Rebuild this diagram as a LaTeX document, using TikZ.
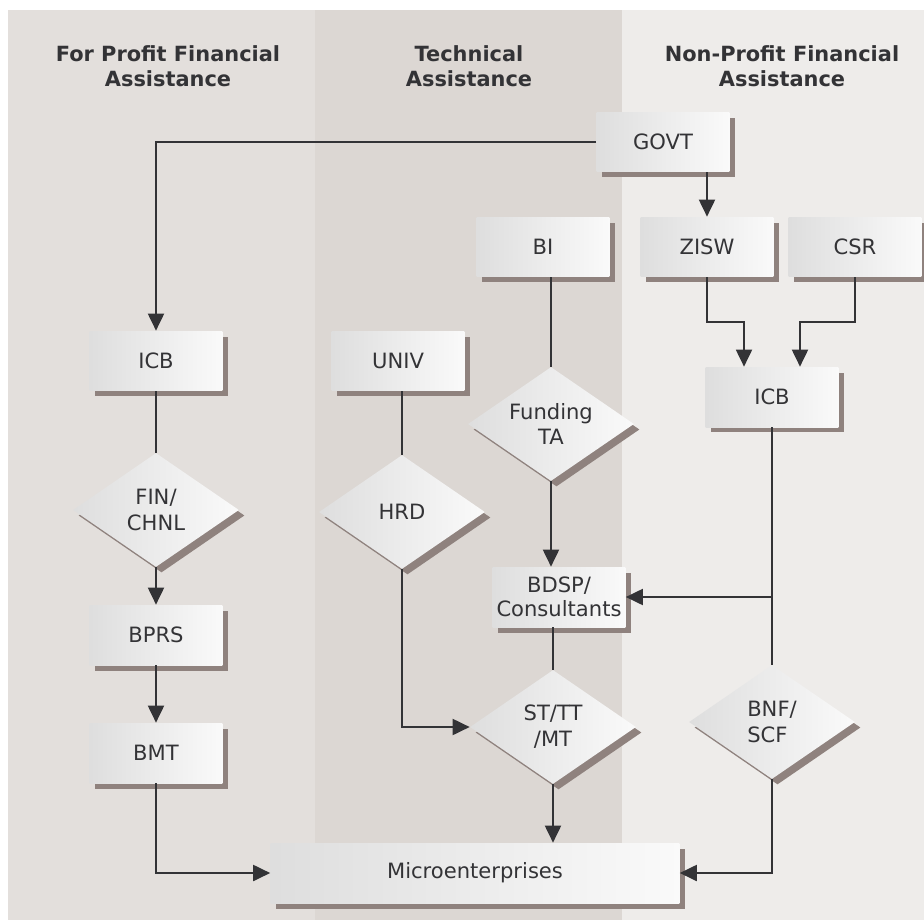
\documentclass[tikz,border=0pt]{standalone}
\usepackage{fontspec}
\setmainfont{DejaVu Sans}
\usepackage{tikz}
\usetikzlibrary{shapes,shadows,arrows.meta}

\definecolor{colA}{HTML}{E3DFDC}
\definecolor{colB}{HTML}{DCD7D3}
\definecolor{colC}{HTML}{EEECEA}
\definecolor{shadowc}{HTML}{8F827E}
\definecolor{ink}{HTML}{333336}

\begin{document}
\begin{tikzpicture}[x=0.02cm,y=-0.02cm,
	box/.style={rectangle, minimum width=2.66cm, minimum height=1.2cm, inner sep=0pt, align=center,
		left color=black!13, right color=black!2, text=ink, font=\fontsize{12}{13.6}\selectfont,
		drop shadow={shadow xshift=0.11cm, shadow yshift=-0.11cm, fill=shadowc, opacity=1}},
	decision/.style={diamond, aspect=1.45, minimum width=3.32cm, minimum height=2.28cm, inner sep=0pt, align=center,
		left color=black!13, right color=black!2, text=ink, font=\fontsize{12}{14.7}\selectfont,
		drop shadow={shadow xshift=0.11cm, shadow yshift=-0.11cm, fill=shadowc, opacity=1}},
	head/.style={font=\fontsize{11.9}{14.5}\selectfont\bfseries, text=ink, align=center},
	link/.style={draw=ink, line width=1.1pt},
	arr/.style={link, -{Triangle[length=0.34cm,width=0.32cm]}}]
	\useasboundingbox (0,0) rectangle (924,920);
	
	% three columns
	\fill[colA] (8,10) rectangle (315,920);
	\fill[colB] (315,10) rectangle (622,920);
	\fill[colC] (622,10) rectangle (924,920);
	
	\node[head] (hfp) at (168,66) {For Profit Financial\\Assistance};
	\node[head] (hta) at (469,66) {Technical\\Assistance};
	\node[head] (hnp) at (782,66) {Non-Profit Financial\\Assistance};
	
	% boxes
	\node[box] (govt) at (663,142) {GOVT};
	\node[box] (bi) at (543,247) {BI};
	\node[box] (zisw) at (707,247) {ZISW};
	\node[box] (csr) at (855,247) {CSR};
	\node[box] (icbl) at (156,361) {ICB};
	\node[box] (univ) at (398,361) {UNIV};
	\node[box] (icbr) at (772,397) {ICB};
	\node[box] (bdsp) at (559,597) {BDSP/\\Consultants};
	\node[box] (bprs) at (156,635) {BPRS};
	\node[box] (bmt) at (156,753) {BMT};
	\node[box, minimum width=8.18cm] (micro) at (475,873) {Microenterprises};
	
	% decisions
	\node[decision] (fund) at (551,424) {Funding\\TA};
	\node[decision] (fin) at (156,510) {FIN/\\CHNL};
	\node[decision] (hrd) at (402,512) {HRD};
	\node[decision, align=left] (bnf) at (772,722) {BNF/\\SCF};
	\node[decision] (st) at (553,727) {ST/TT\\/MT};
	
	% connectors
	\draw[arr] (govt.west) -| (icbl.north);
	\draw[arr] (zisw.north |- govt.south) -- (zisw.north);
	\draw[arr] (zisw.south) -- ++(0,45) -| ([xshift=-0.56cm]icbr.north);
	\draw[arr] (csr.south) -- ++(0,45) -| ([xshift=0.56cm]icbr.north);
	
	\draw[link] (fund.north |- bi.south) -- (fund.north);
	\draw[arr] (fund.south) -- (fund.south |- bdsp.north);
	\draw[link] (st.north |- bdsp.south) -- (st.north);
	\draw[arr] (st.south) -- (st.south |- micro.north);
	
	\draw[link] (hrd.north |- univ.south) -- (hrd.north);
	\draw[arr] (hrd.south) |- (st.west);
	
	\draw[link] (icbr.south) -- (bnf.north);
	\coordinate (split) at (icbr.south |- bdsp.east);
	\draw[arr] (split) -- (bdsp.east);
	\draw[arr] (bnf.south) |- (micro.east);
	
	\draw[link] (icbl.south) -- (fin.north);
	\draw[arr] (fin.south) -- (fin.south |- bprs.north);
	\draw[arr] (bprs.south) -- (bprs.south |- bmt.north);
	\draw[arr] (bmt.south) |- (micro.west);
\end{tikzpicture}
\end{document}
